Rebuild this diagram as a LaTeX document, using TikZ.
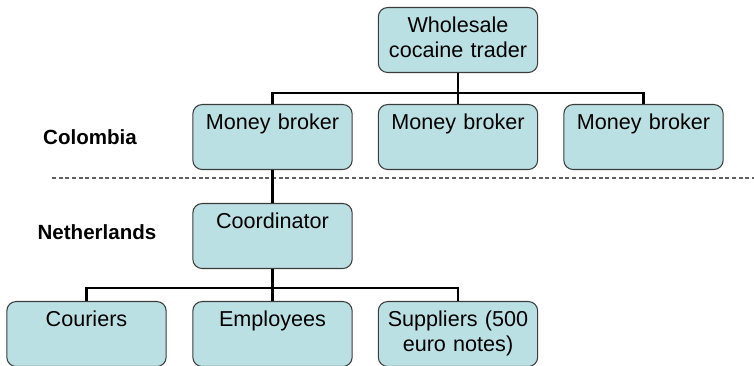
\documentclass[tikz,border=0pt]{standalone}
\usepackage{fontspec}
\setmainfont{Liberation Sans}
\definecolor{boxfill}{RGB}{187,224,227}
\definecolor{boxline}{RGB}{60,60,60}

\begin{document}
\begin{tikzpicture}[x=0.75pt, y=-0.75pt,
    box/.style={draw=boxline, line width=0.8pt, rounded corners=7pt, fill=boxfill, anchor=north, inner sep=0pt, text width=118pt, align=center, minimum width=119.5pt, text height=18.75pt, text depth=30pt, font=\fontsize{16.2}{18.75}\selectfont},
    conn/.style={line width=2.2pt},
    lbl/.style={anchor=base, font=\fontsize{15.4}{18.75}\selectfont\bfseries},
    sepline/.style={dash pattern=on 3pt off 2pt, gray!75!black, line width=0.8pt}
]
\useasboundingbox (0,0) rectangle (754,366);

\node[box] (trader) at (458,7) {Wholesale\\cocaine trader};
\node[box] (broker1) at (272.5,104) {Money broker};
\node[box] (broker2) at (458,104) {Money broker};
\node[box] (broker3) at (643.5,104) {Money broker};
\node[box] (coord) at (272.5,203) {Coordinator};
\node[box] (couriers) at (86.5,301) {Couriers};
\node[box] (employees) at (272.5,301) {Employees};
\node[box] (suppliers) at (458,301) {Suppliers (500\\euro notes)};

\node[lbl] (colombia) at (90,145) {Colombia};
\node[lbl] (netherlands) at (97,240) {Netherlands};

\coordinate (sepL) at (52,178);
\coordinate (sepR) at (754,178);
\draw[sepline] (sepL) -- (sepR);

\draw[conn] (trader.south) -- (broker2.north);
\draw[conn] (broker1.north) -- ++(0,-11) -| (broker3.north);
\draw[conn] (broker1.south) -- (coord.north);
\draw[conn] (coord.south) -- (employees.north);
\draw[conn] (couriers.north) -- ++(0,-13) -| (suppliers.north);
\end{tikzpicture}
\end{document}
